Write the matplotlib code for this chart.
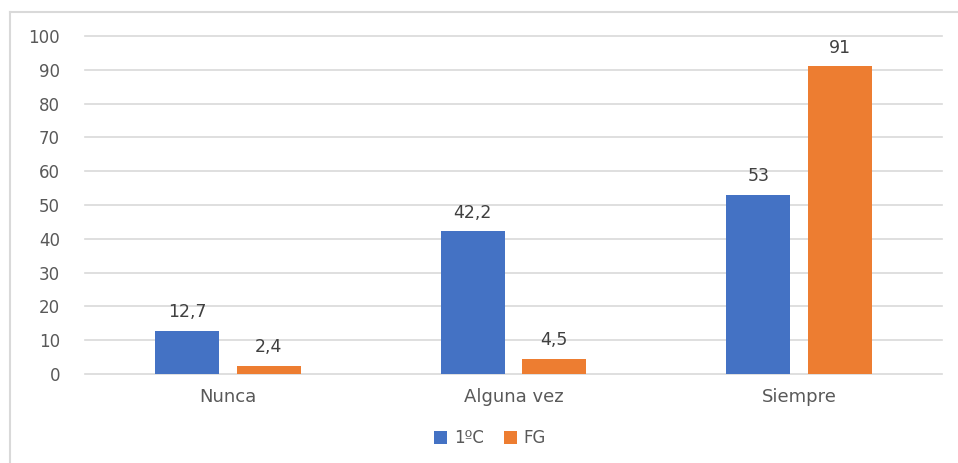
import matplotlib
matplotlib.use("Agg")
from matplotlib import pyplot as plt
from matplotlib.lines import Line2D
import numpy as np

categories = ["Nunca", "Alguna vez", "Siempre"]
series_names = ["1ºC", "FG"]
vals_1c = [12.7, 42.2, 53]
vals_fg = [2.4, 4.5, 91]
labels_1c = ["12,7", "42,2", "53"]
labels_fg = ["2,4", "4,5", "91"]

blue = "#4472C4"
orange = "#ED7D31"
W, H = 958, 463

fig = plt.figure(figsize=(W / 100, H / 100), dpi=100)
ax = fig.add_axes([85 / W, 1 - 374 / H, (942 - 85) / W, (374 - 36) / H])

x = np.arange(len(categories))
bw = 0.225
off = 0.143
b1 = ax.bar(x - off, vals_1c, bw, color=blue, label=series_names[0], zorder=3)
b2 = ax.bar(x + off, vals_fg, bw, color=orange, label=series_names[1], zorder=3)

for bars, labs in ((b1, labels_1c), (b2, labels_fg)):
    for r, t in zip(bars, labs):
        ax.annotate(t, (r.get_x() + r.get_width() / 2, r.get_height()),
                    xytext=(0, 7), textcoords="offset points", ha="center",
                    va="bottom", fontsize=12.5, color="#404040")

ax.set_xlim(-0.5, 2.5)
ax.set_ylim(0, 100)
ax.set_yticks(range(0, 101, 10))
ax.yaxis.grid(True, color="#d9d9d9", linewidth=1.2, zorder=0)
for gl in ax.get_ygridlines():
    gl.set_clip_on(False)
for s in ax.spines.values():
    s.set_visible(False)
ax.tick_params(axis="both", length=0, labelsize=12, colors="#595959")
ax.tick_params(axis="y", pad=18)
ax.tick_params(axis="x", pad=10, labelsize=13)
ax.set_xticks(x)
ax.set_xticklabels(categories)

ax.legend(loc="center", bbox_to_anchor=(490 / W, 1 - 438 / H),
          bbox_transform=fig.transFigure, ncol=2, frameon=False,
          fontsize=12, handlelength=0.8, handleheight=0.8,
          columnspacing=1.2, handletextpad=0.4, labelcolor="#595959")

# outer frame (top and left edges visible)
fig.add_artist(Line2D([10 / W, 1], [1 - 12 / H, 1 - 12 / H], color="#d9d9d9", linewidth=1.5))
fig.add_artist(Line2D([10 / W, 10 / W], [0, 1 - 12 / H], color="#d9d9d9", linewidth=1.5))

fig.savefig("out.png", dpi=100)
